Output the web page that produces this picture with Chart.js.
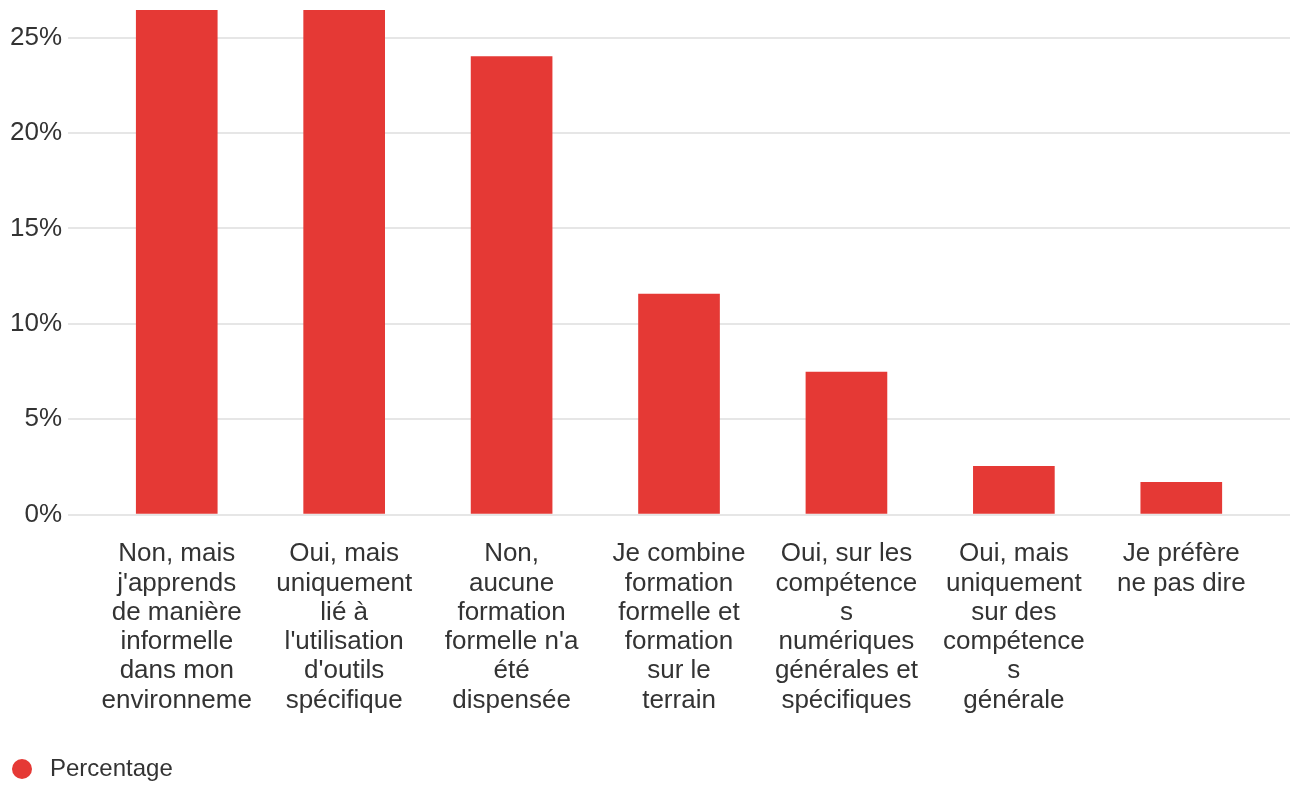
<!DOCTYPE html>
<html>
<head>
<meta charset="utf-8">
<script src="https://cdn.jsdelivr.net/npm/chart.js@4"></script>
<style>
  html, body { margin: 0; padding: 0; background: #fff; }
  #wrap { width: 1290px; height: 785px; position: relative; }
</style>
</head>
<body>
<div id="wrap"><canvas id="c"></canvas></div>
<script>
const categories = [
  ["Non, mais", "j'apprends", "de manière", "informelle", "dans mon", "environneme"],
  ["Oui, mais", "uniquement", "lié à", "l'utilisation", "d'outils", "spécifique"],
  ["Non,", "aucune", "formation", "formelle n'a", "été", "dispensée"],
  ["Je combine", "formation", "formelle et", "formation", "sur le", "terrain"],
  ["Oui, sur les", "compétence", "s", "numériques", "générales et", "spécifiques"],
  ["Oui, mais", "uniquement", "sur des", "compétence", "s", "générale"],
  ["Je préfère", "ne pas dire"]
];
const percentages = [26.45, 26.45, 24.0, 11.56, 7.46, 2.52, 1.69];
const yTickValues = [0, 5, 10, 15, 20, 25];
const seriesName = "Percentage";

const barColor = "#e53935";
const textColor = "#333333";
const gridColor = "#e6e6e6";
const fontFamily = "'Liberation Sans', Arial, sans-serif";
const yMax = Math.max(...percentages);

const setTicks = (axis) => {
  axis.ticks = yTickValues.map(v => ({ value: v }));
};

// legend symbol: a filled circle in the series colour
const legendDot = document.createElement('canvas');
legendDot.width = 20; legendDot.height = 20;
(function () {
  const g = legendDot.getContext('2d');
  g.fillStyle = barColor;
  g.beginPath();
  g.arc(10, 10, 10, 0, Math.PI * 2);
  g.fill();
})();

new Chart(document.getElementById('c'), {
  type: 'bar',
  data: {
    labels: categories,
    datasets: [{
      label: seriesName,
      data: percentages,
      backgroundColor: barColor,
      borderWidth: 0,
      barThickness: 81
    }]
  },
  options: {
    responsive: true,
    maintainAspectRatio: false,
    animation: false,
    layout: { padding: { top: 0, left: 4, right: 0, bottom: -6 } },
    plugins: {
      legend: {
        position: 'bottom',
        align: 'start',
        labels: {
          usePointStyle: true,
          pointStyle: legendDot,
          pointStyleWidth: 32,
          boxHeight: 20,
          color: textColor,
          font: { family: fontFamily, size: 24 },
          padding: 2
        }
      },
      tooltip: { enabled: false }
    },
    scales: {
      x: {
        grid: { display: false, drawTicks: false },
        border: { display: false },
        afterFit: (s) => { s.height += 15; },
        ticks: {
          color: textColor,
          font: { family: fontFamily, size: 26, lineHeight: 1.125 },
          padding: 25,
          maxRotation: 0,
          autoSkip: false
        }
      },
      y: {
        min: 0,
        max: yMax,
        afterBuildTicks: setTicks,
        grid: { color: gridColor, lineWidth: 2, drawTicks: true, tickLength: 25, tickColor: gridColor },
        border: { display: false },
        ticks: {
          color: textColor,
          font: { family: fontFamily, size: 26, lineHeight: 0.3 },
          padding: 6,
          callback: v => v + '%'
        }
      },
      yRight: {
        position: 'right',
        min: 0,
        max: yMax,
        afterBuildTicks: setTicks,
        grid: { color: gridColor, lineWidth: 2, drawTicks: true, tickLength: 25, tickColor: gridColor, drawOnChartArea: false },
        border: { display: false },
        ticks: { display: false }
      }
    }
  }
});
</script>
</body>
</html>
